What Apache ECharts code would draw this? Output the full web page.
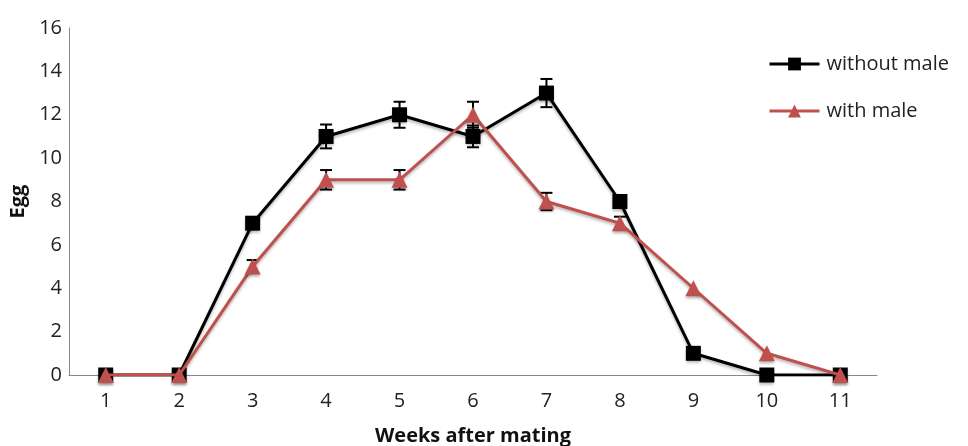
<!DOCTYPE html>
<html><head><meta charset="utf-8">
<script src="https://cdn.jsdelivr.net/npm/echarts@6/dist/echarts.min.js"></script>
<style>html,body{margin:0;padding:0;background:#fff}#c{width:968px;height:446px}</style>
</head><body><div id="c"></div>
<script>
const weeks = ['1','2','3','4','5','6','7','8','9','10','11'];
const withoutMale = [0,0,7,11,12,11,13,8,1,0,0];
const withoutMaleErr = [0,0,0,0.55,0.6,0.5,0.65,0.3,0,0,0];
const withMale = [0,0,5,9,9,12,8,7,4,1,0];
const withMaleErr = [0,0,0.3,0.45,0.45,0.6,0.4,0.3,0,0,0];
const yTicks = {min:0, max:16, interval:2};

const chart = echarts.init(document.getElementById('c'));
const font = '"Open Sans", Lato, sans-serif';
function errSeries(vals, errs, z){
  return {
    type:'custom', z:z, silent:true,
    data: vals.map((v,i)=>[i, v-errs[i], v+errs[i]]).filter((d,i)=>errs[i]>0),
    renderItem:function(params, api){
      const lo = api.coord([api.value(0), api.value(1)]);
      const hi = api.coord([api.value(0), api.value(2)]);
      const w = 6;
      const st = {stroke:'#000', lineWidth:2};
      return {type:'group', children:[
        {type:'line', shape:{x1:lo[0],y1:lo[1],x2:hi[0],y2:hi[1]}, style:st},
        {type:'line', shape:{x1:lo[0]-w,y1:lo[1],x2:lo[0]+w,y2:lo[1]}, style:st},
        {type:'line', shape:{x1:hi[0]-w,y1:hi[1],x2:hi[0]+w,y2:hi[1]}, style:st}
      ]};
    }
  };
}
chart.setOption({
  animation:false,
  grid:{left:69, right:91, top:28, bottom:71, outerBoundsMode:'none', containLabel:false},
  legend:{
    orient:'vertical', left:763, top:49, itemGap:27, itemWidth:50, itemHeight:16,
    lineStyle:{width:3},
    textStyle:{fontFamily:font, fontSize:20, color:'#222', padding:[0,0,0,2]},
    data:['without male','with male']
  },
  xAxis:{
    type:'category', data:weeks, boundaryGap:true,
    name:'Weeks after mating', nameLocation:'middle', nameGap:51,
    nameTextStyle:{fontFamily:font, fontSize:20, fontWeight:'bold', color:'#111'},
    axisLine:{lineStyle:{color:'#888', width:1}},
    axisTick:{show:false},
    axisLabel:{fontFamily:font, fontSize:20, color:'#222', margin:16}
  },
  yAxis:{
    type:'value', min:yTicks.min, max:yTicks.max, interval:yTicks.interval,
    name:'Egg', nameLocation:'middle', nameGap:37,
    nameTextStyle:{fontFamily:font, fontSize:20, fontWeight:'bold', color:'#111'},
    axisLine:{show:true, lineStyle:{color:'#888', width:1}},
    axisTick:{show:false},
    splitLine:{show:false},
    axisLabel:{fontFamily:font, fontSize:20, color:'#222', margin:7}
  },
  series:[
    errSeries(withoutMale, withoutMaleErr, 1),
    errSeries(withMale, withMaleErr, 1),
    {name:'without male', type:'line', data:withoutMale, z:3,
     symbol:'rect', symbolSize:15, color:'#000',
     lineStyle:{color:'#000', width:3, shadowColor:'rgba(0,0,0,0.3)', shadowBlur:3, shadowOffsetY:2},
     itemStyle:{color:'#000', shadowColor:'rgba(0,0,0,0.3)', shadowBlur:3, shadowOffsetY:2}},
    {name:'with male', type:'line', data:withMale, z:4,
     symbol:'triangle', symbolSize:16, color:'#C0504D',
     lineStyle:{color:'#C0504D', width:3, shadowColor:'rgba(0,0,0,0.3)', shadowBlur:3, shadowOffsetY:2},
     itemStyle:{color:'#C0504D', shadowColor:'rgba(0,0,0,0.3)', shadowBlur:3, shadowOffsetY:2}}
  ]
});
</script></body></html>
